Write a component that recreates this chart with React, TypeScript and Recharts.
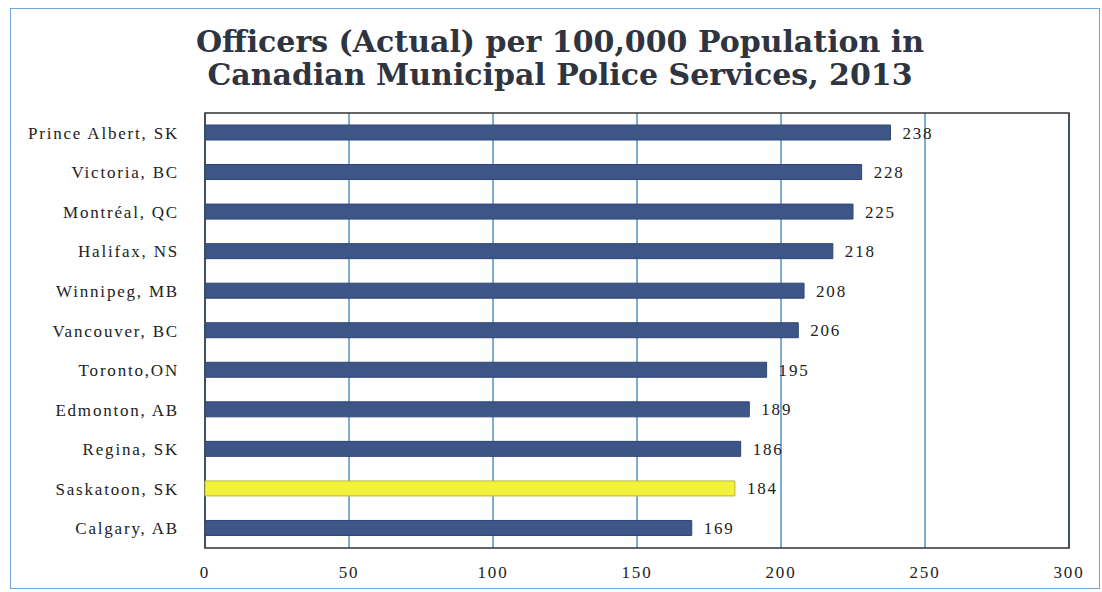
import React from 'react';
import { BarChart, Bar, XAxis, YAxis, CartesianGrid, Cell, LabelList, ReferenceArea } from 'recharts';

const cities = [
  'Prince Albert, SK',
  'Victoria, BC',
  'Montréal, QC',
  'Halifax, NS',
  'Winnipeg, MB',
  'Vancouver, BC',
  'Toronto,ON',
  'Edmonton, AB',
  'Regina, SK',
  'Saskatoon, SK',
  'Calgary, AB',
];
const officers = [238, 228, 225, 218, 208, 206, 195, 189, 186, 184, 169];
const xTicks = [0, 50, 100, 150, 200, 250, 300];
const highlight = 'Saskatoon, SK';

const BAR_COLOR = '#3d5687';
const HIGHLIGHT_COLOR = '#f2f23a';
const GRID_COLOR = '#4e93c6';
const FONT = '"Liberation Serif", "DejaVu Serif", serif';

const data = cities.map((city, i) => ({ city, value: officers[i] }));

const textStyle = { fill: '#222', fontSize: 17, fontFamily: FONT, letterSpacing: 1.8 };

export default function App() {
  return (
    <div style={{ position: 'absolute', left: 0, top: 0, width: 1102, height: 592, background: '#fff', fontFamily: FONT }}>
      {/* outer frame */}
      <div style={{ position: 'absolute', left: 10, top: 8, width: 1090, height: 581, border: '1px solid #6fa6d6', boxSizing: 'border-box' }} />
      <div
        style={{
          position: 'absolute',
          left: 0,
          top: 25,
          width: 1120,
          textAlign: 'center',
          fontWeight: 'bold',
          fontFamily: '"DejaVu Serif", serif',
          fontSize: 30,
          lineHeight: '33px',
          color: '#2e3440',
        }}
      >
        Officers (Actual) per 100,000 Population in<br />Canadian Municipal Police Services, 2013
      </div>
      <BarChart
        width={1102}
        height={592}
        data={data}
        layout="vertical"
        margin={{ top: 113, right: 33, bottom: 14, left: 0 }}
        barSize={15}
        style={{ position: 'absolute', left: 0, top: 0 }}
      >
        <CartesianGrid horizontal={false} stroke={GRID_COLOR} strokeWidth={1.5} />
        <XAxis
          type="number"
          domain={[0, 300]}
          ticks={xTicks}
          axisLine={false}
          tickLine={false}
          height={30}
          tickMargin={12}
          tick={textStyle}
        />
        <YAxis
          type="category"
          dataKey="city"
          width={205}
          axisLine={false}
          tickLine={false}
          tickMargin={20}
          interval={0}
          tick={textStyle}
        />
        <ReferenceArea x1={0} x2={300} fill="none" stroke="#333" strokeWidth={1.5} ifOverflow="visible" />
        <Bar dataKey="value" isAnimationActive={false}>
          {data.map((d) => (
            <Cell
              key={d.city}
              fill={d.city === highlight ? HIGHLIGHT_COLOR : BAR_COLOR}
              stroke={d.city === highlight ? '#b8b83a' : '#2f4670'}
              strokeWidth={1}
            />
          ))}
          <LabelList dataKey="value" position="right" offset={12} {...textStyle} />
        </Bar>
      </BarChart>
    </div>
  );
}
